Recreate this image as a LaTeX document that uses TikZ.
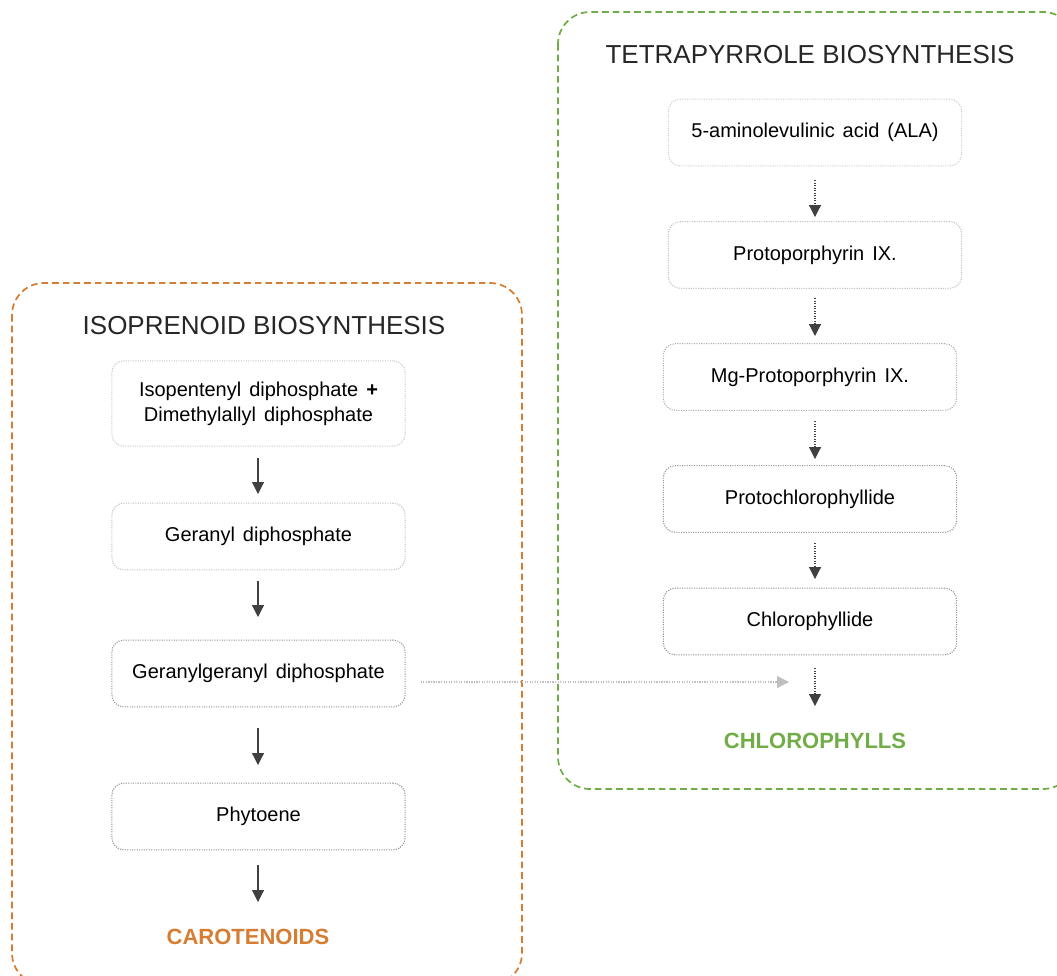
\documentclass[tikz,border=0pt]{standalone}
\usepackage{fontspec}
\setmainfont{Liberation Sans}
\usetikzlibrary{arrows.meta}
\definecolor{orng}{RGB}{214,125,50}
\definecolor{grn}{RGB}{112,173,71}
\definecolor{arr}{RGB}{64,64,64}
\newcommand{\myboxfont}{\fontsize{15}{18.5}\selectfont\spaceskip=0.4em plus 0.1em\relax}
\tikzset{
  stepbox/.style={draw=#1, densely dotted, line width=0.8pt, rounded corners=9pt, minimum width=220pt, minimum height=50pt, align=center, font=\myboxfont, inner sep=2pt},
  stepbox/.default={gray!60},
  flow/.style={arr, line width=0.9pt, -{Triangle[width=9pt,length=9pt]}},
  dflow/.style={flow, densely dotted},
  frame/.style={dashed, line width=1.3pt, dash pattern=on 5pt off 3pt, rounded corners=24pt},
  title/.style={font=\fontsize{19.5}{23}\selectfont, text=black!85},
  result/.style={font=\fontsize{16.5}{20}\selectfont\bfseries},
}
\begin{document}
\begin{tikzpicture}[x=0.75pt,y=-0.75pt]
\useasboundingbox (0,0) rectangle (1057,975);
\begin{scope}
\clip (0,0) rectangle (1057,975);
\draw[frame, draw=orng] (12,283) rectangle (522,985);
\draw[frame, draw=grn] (558,12) rectangle (1075,789);
\end{scope}

% left column
\node[title] (t1) at (264,326) {ISOPRENOID BIOSYNTHESIS};
\node[stepbox=gray!45, minimum height=64pt] (l1) at (258.5,403.5) {Isopentenyl diphosphate \textbf{+}\\Dimethylallyl diphosphate};
\node[stepbox=gray!50] (l2) at (258.5,536.5) {Geranyl diphosphate};
\node[stepbox=gray!85] (l3) at (258.5,673.5) {Geranylgeranyl diphosphate};
\node[stepbox=gray!90] (l4) at (258.5,816.5) {Phytoene};
\node[result, text=orng] (car) at (248,937) {CAROTENOIDS};

\coordinate (a1s) at (258,458); \coordinate (a1e) at (258,494);
\coordinate (a2s) at (258,581); \coordinate (a2e) at (258,617);
\coordinate (a3s) at (258,728); \coordinate (a3e) at (258,765);
\coordinate (a4s) at (258,865); \coordinate (a4e) at (258,902);
\draw[flow] (a1s) -- (a1e);
\draw[flow] (a2s) -- (a2e);
\draw[flow] (a3s) -- (a3e);
\draw[flow] (a4s) -- (a4e);

% right column
\node[title] (t2) at (810,55) {TETRAPYRROLE BIOSYNTHESIS};
\node[stepbox=gray!40] (r1) at (815,132.5) {5-aminolevulinic acid (ALA)};
\node[stepbox=gray!50] (r2) at (815,255) {Protoporphyrin IX.};
\node[stepbox=gray!65] (r3) at (810,377) {Mg-Protoporphyrin IX.};
\node[stepbox=gray!85] (r4) at (810,499) {Protochlorophyllide};
\node[stepbox=gray!90] (r5) at (810,621.5) {Chlorophyllide};
\node[result, text=grn] (chl) at (815,741) {CHLOROPHYLLS};

\coordinate (b1s) at (815,180); \coordinate (b1e) at (815,217);
\coordinate (b2s) at (815,298); \coordinate (b2e) at (815,336);
\coordinate (b3s) at (815,421); \coordinate (b3e) at (815,459);
\coordinate (b4s) at (815,543); \coordinate (b4e) at (815,579);
\coordinate (b5s) at (815,668); \coordinate (b5e) at (815,706);
\draw[dflow] (b1s) -- (b1e);
\draw[dflow] (b2s) -- (b2e);
\draw[dflow] (b3s) -- (b3e);
\draw[dflow] (b4s) -- (b4e);
\draw[dflow] (b5s) -- (b5e);

% cross link
\coordinate (cx) at (789,682);
\draw[densely dotted, line width=0.9pt, gray!50, -{Triangle[width=9pt,length=9pt]}] (l3.east |- 0,682) ++(15,0) -- (cx);
\end{tikzpicture}
\end{document}
